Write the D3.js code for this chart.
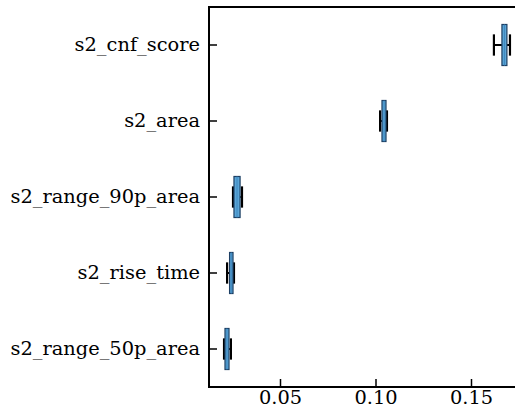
<!DOCTYPE html>
<html><head><meta charset="utf-8">
<script src="https://cdn.jsdelivr.net/npm/d3@7"></script>
<style>html,body{margin:0;padding:0;background:#fff;overflow:hidden}</style>
</head><body>
<svg id="c" width="515" height="412"></svg>
<script>
const features = ["s2_cnf_score","s2_area","s2_range_90p_area","s2_rise_time","s2_range_50p_area"];
const whiskerLo = [0.1620, 0.1024, 0.0254, 0.0223, 0.0207];
const q1        = [0.1662, 0.1034, 0.0259, 0.0236, 0.0212];
const median    = [0.1675, 0.1045, 0.0275, 0.0245, 0.0222];
const q3        = [0.1688, 0.1055, 0.0291, 0.0254, 0.0233];
const whiskerHi = [0.1704, 0.1060, 0.0301, 0.0259, 0.0243];
const xTicks = [0.05, 0.10, 0.15];

const svg = d3.select("#c");
const L = 209, T = 7, B = 387, R = 530;
const x = d3.scaleLinear().domain([0.05, 0.15]).range([280, 471]);
const y = d3.scaleBand().domain(features).range([T, B]).padding(0);
const bw = y.bandwidth();
const font = "'DejaVu Serif', serif";
const fs = 19.4;

const g = svg.append("g");
features.forEach((f, i) => {
  const cy = y(f) + bw/2;
  const gg = g.append("g");
  gg.append("line").attr("x1", x(whiskerLo[i])).attr("x2", x(q1[i])).attr("y1", cy).attr("y2", cy)
    .attr("stroke", "#000").attr("stroke-width", 2);
  gg.append("line").attr("x1", x(q3[i])).attr("x2", x(whiskerHi[i])).attr("y1", cy).attr("y2", cy)
    .attr("stroke", "#000").attr("stroke-width", 2);
  [whiskerLo[i], whiskerHi[i]].forEach(v => {
    gg.append("line").attr("x1", x(v)).attr("x2", x(v)).attr("y1", cy - bw*0.14).attr("y2", cy + bw*0.14)
      .attr("stroke", "#000").attr("stroke-width", 2.2);
  });
  gg.append("rect").attr("x", x(q1[i])).attr("width", x(q3[i]) - x(q1[i]))
    .attr("y", cy - bw*0.27).attr("height", bw*0.54)
    .attr("fill", "#5aa6d8").attr("stroke", "#1d3f63").attr("stroke-width", 1.2);
  gg.append("line").attr("x1", x(median[i])).attr("x2", x(median[i]))
    .attr("y1", cy - bw*0.27).attr("y2", cy + bw*0.27)
    .attr("stroke", "#3f86bd").attr("stroke-width", 1);
});

svg.append("path").attr("d", `M${R},${T}H${L}V${B}H${R}`).attr("fill", "none")
  .attr("stroke", "#000").attr("stroke-width", 2);

const xa = svg.append("g").attr("transform", `translate(0,${B})`)
  .call(d3.axisBottom(x).tickValues(xTicks).tickFormat(d3.format(".2f")).tickSizeInner(-8).tickSizeOuter(0).tickPadding(3));
xa.select(".domain").remove();
xa.selectAll(".tick line").attr("stroke", "#000").attr("stroke-width", 1.5);
xa.selectAll("text").attr("font-family", font).attr("font-size", fs).attr("fill", "#000");

const ya = svg.append("g").attr("transform", `translate(${L},0)`)
  .call(d3.axisLeft(y).tickSizeInner(-8).tickSizeOuter(0).tickPadding(9));
ya.select(".domain").remove();
ya.selectAll(".tick line").attr("stroke", "#000").attr("stroke-width", 1.5);
ya.selectAll("text").attr("font-family", font).attr("font-size", fs).attr("fill", "#000");
</script>
</body></html>
